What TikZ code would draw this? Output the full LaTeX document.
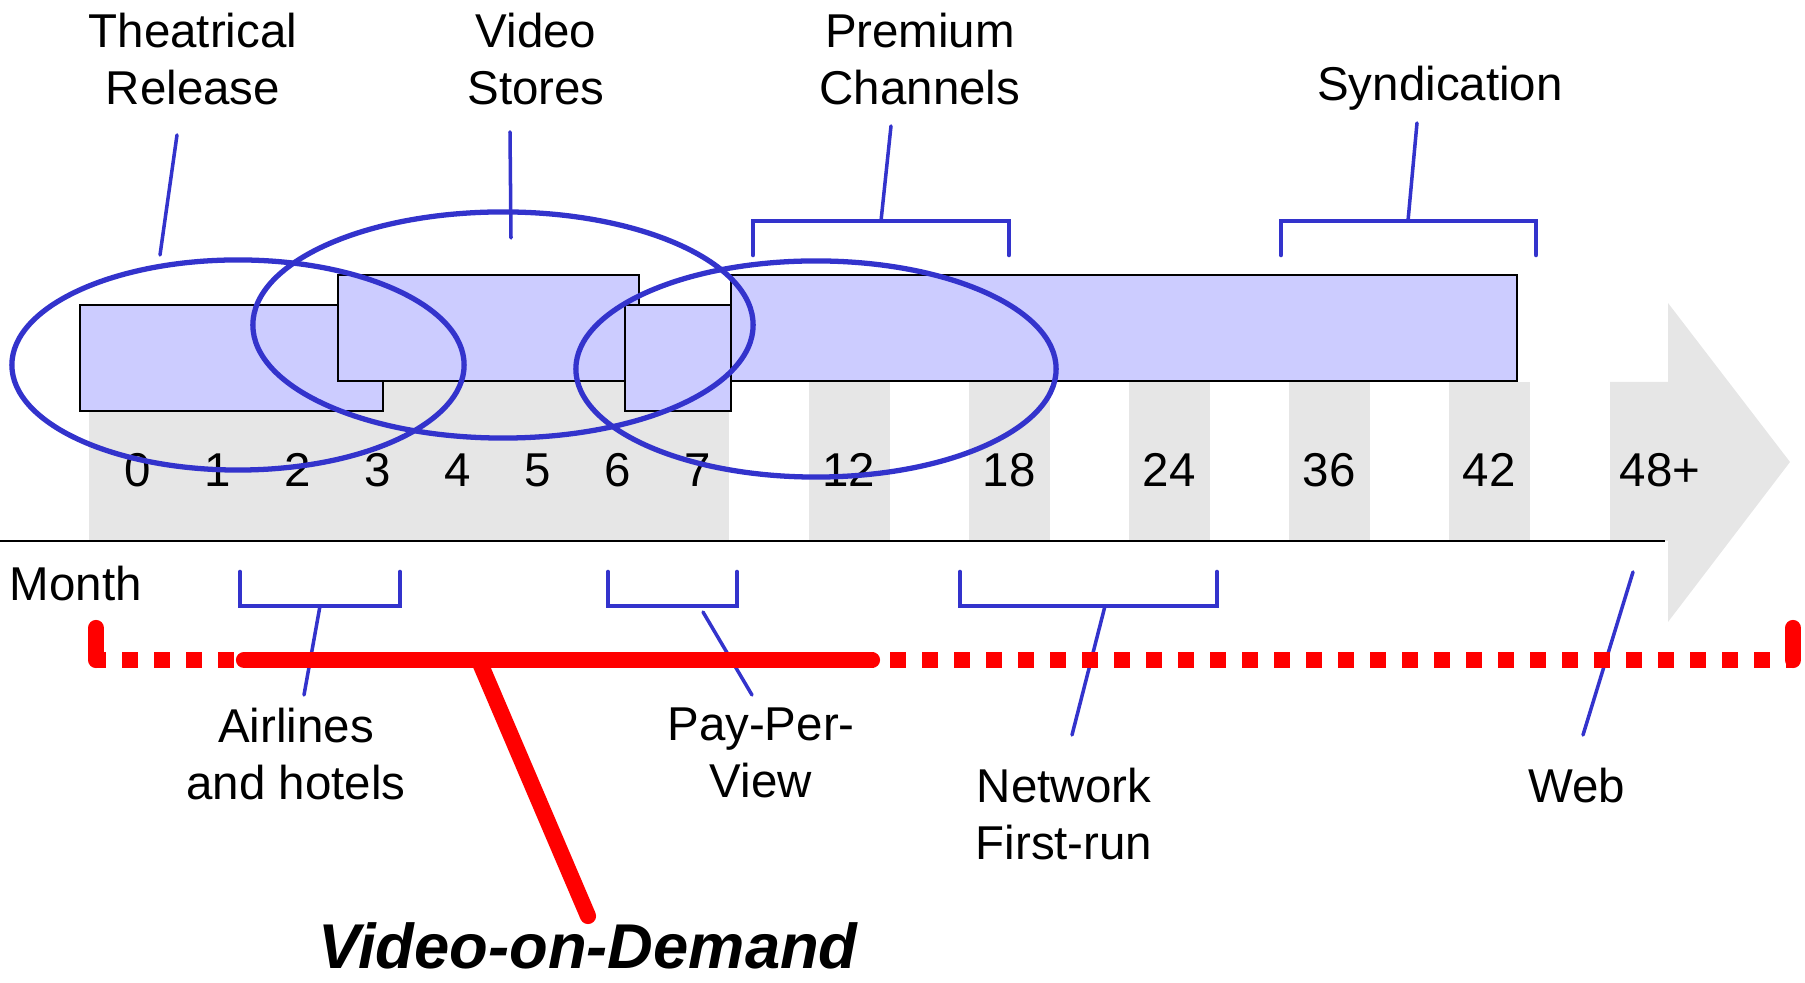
\documentclass[tikz,border=0pt]{standalone}
\usepackage{fontspec}
\setmainfont{Liberation Sans}
\usetikzlibrary{shapes.geometric}
\definecolor{bandgray}{HTML}{E6E6E6}
\definecolor{boxblue}{HTML}{CCCCFF}
\definecolor{ringblue}{HTML}{3333CC}
\begin{document}
\begin{tikzpicture}[x=0.01cm,y=-0.01cm,
  lbl/.style={font=\fontsize{13.5}{16.2}\selectfont,align=center,anchor=north},
  num/.style={font=\fontsize{13.5}{16.2}\selectfont,anchor=base},
  window/.style={fill=boxblue,draw=black,line width=0.5pt},
  ring/.style={ellipse,draw=ringblue,line width=1.5pt},
  brk/.style={draw=ringblue,line width=1.3pt,line cap=round},
  lead/.style={draw=ringblue,line width=1pt,line cap=round},
  vod/.style={draw=red,line width=4.6pt,line cap=round}]
\tikzstyle{every node}+=[inner sep=0pt]
\useasboundingbox (0,0) rectangle (1805,983);
\fill[bandgray] (89,382) rectangle (729,541);
\foreach \x in {809,969,1129,1289,1449}
  \fill[bandgray] (\x,382) rectangle ++(81,159);
\fill[bandgray] (1610,382) -- (1668,382) -- (1668,303) -- (1790,462) -- (1668,622) -- (1668,541) -- (1610,541) -- cycle;
\draw[window] (80,305) rectangle (383,411);
\draw[window] (338,275) rectangle (639,381);
\draw[window] (625,305) rectangle (731,411);
\draw[window] (731,275) rectangle (1517,381);
\draw[black,line width=0.6pt] (0,541) -- (1665,541);
\foreach \n in {0,...,7}
  \node[num] (m\n) at ({138+80*\n},487) {\n};
\foreach \n/\x [count=\i] in {12/849,18/1009,24/1169,36/1329,42/1489,48+/1660}
  \node[num] (mm\i) at (\x,487) {\n};
\node[ring,minimum width=4.52cm,minimum height=2.1cm] (theatre) at (238,365) {};
\node[ring,minimum width=5cm,minimum height=2.26cm] (stores) at (503,325) {};
\node[ring,minimum width=4.8cm,minimum height=2.16cm] (premium) at (816,369) {};
\node[lbl] (theatrical) at (193,12) {Theatrical\\Release};
\node[lbl] (video) at (536,12) {Video\\Stores};
\node[lbl] (channels) at (920,12) {Premium\\Channels};
\node[lbl] (synd) at (1440,65) {Syndication};
\node[lbl,anchor=north west] (month) at (9,565) {Month};
\node[lbl] (airlines) at (296,707) {Airlines\\and hotels};
\node[lbl] (ppv) at (761,707) {Pay-Per-\\View};
\node[lbl] (network) at (1064,767) {Network\\First-run};
\node[lbl] (web) at (1577,767) {Web};
\node[anchor=north,font=\fontsize{18}{20}\selectfont\bfseries\itshape] (vod) at (588,922) {Video-on-Demand};
\coordinate (thA) at (177,135); \coordinate (thB) at (160,255);
\coordinate (vsA) at (510,132); \coordinate (vsB) at (511,238);
\coordinate (pcA) at (891,126); \coordinate (pcB) at (881,221);
\coordinate (syA) at (1417,123); \coordinate (syB) at (1408,221);
\coordinate (ahA) at (320,606); \coordinate (ahB) at (304,695);
\coordinate (pvA) at (703,612); \coordinate (pvB) at (752,695);
\coordinate (nfA) at (1105,606); \coordinate (nfB) at (1072,735);
\coordinate (wbA) at (1633,572); \coordinate (wbB) at (1583,735);
\draw[lead] (thA) -- (thB);
\draw[lead] (vsA) -- (vsB);
\draw[lead] (pcA) -- (pcB);
\draw[lead] (syA) -- (syB);
\draw[lead] (ahA) -- (ahB);
\draw[lead] (pvA) -- (pvB);
\draw[lead] (nfA) -- (nfB);
\draw[lead] (wbA) -- (wbB);
\draw[brk] (753,255) -- (753,221) -- (1009,221) -- (1009,255);
\draw[brk] (1281,255) -- (1281,221) -- (1536,221) -- (1536,255);
\draw[brk] (240,572) -- (240,606) -- (400,606) -- (400,572);
\draw[brk] (608,572) -- (608,606) -- (737,606) -- (737,572);
\draw[brk] (960,572) -- (960,606) -- (1217,606) -- (1217,572);
\coordinate (vodL) at (96,660); \coordinate (vodR) at (1793,660);
\coordinate (vodA) at (244,660); \coordinate (vodB) at (872,660);
\coordinate (vodfoot) at (480,663);
\draw[vod,line cap=butt,dash pattern=on 4.55pt off 4.55pt,dash phase=1.7pt] (vodL) -- (vodR);
\draw[vod] (vodL) -- ++(0,-32);
\draw[vod] (vodR) -- ++(0,-32);
\draw[vod] (vodA) -- (vodB);
\draw[vod] (vodfoot) -- ([yshift=0.06cm]vod.north);
\end{tikzpicture}
\end{document}
